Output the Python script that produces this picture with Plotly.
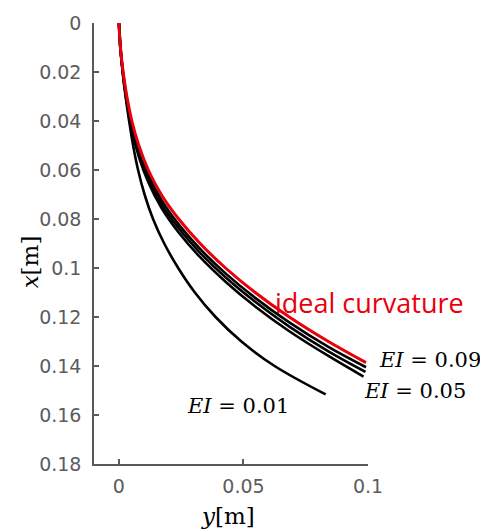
import plotly.graph_objects as go

# horizontal coordinate y[m] and vertical coordinate x[m]
ideal_y = [0, 0.0006, 0.0017, 0.0032, 0.0052, 0.0080, 0.0118, 0.0170, 0.0240, 0.0326, 0.0428, 0.0547, 0.0684, 0.0841, 0.0992]
ideal_x = [0, 0.010, 0.020, 0.030, 0.040, 0.050, 0.060, 0.070, 0.080, 0.090, 0.100, 0.110, 0.120, 0.130, 0.1386]

ei09_y = [0, 0.0006, 0.0017, 0.0032, 0.0052, 0.0080, 0.0118, 0.0170, 0.0240, 0.0326, 0.0428, 0.0547, 0.0684, 0.0841, 0.0992]
ei09_x = [0, 0.0102, 0.0205, 0.0310, 0.0415, 0.0518, 0.0620, 0.0721, 0.0822, 0.0922, 0.1022, 0.1122, 0.1222, 0.1322, 0.1405]

ei07_y = [0, 0.0006, 0.0017, 0.0032, 0.0052, 0.0080, 0.0118, 0.0170, 0.0240, 0.0326, 0.0428, 0.0547, 0.0684, 0.0841, 0.0990]
ei07_x = [0, 0.0104, 0.0210, 0.0320, 0.0428, 0.0532, 0.0635, 0.0737, 0.0838, 0.0938, 0.1038, 0.1138, 0.1239, 0.1340, 0.1424]

ei05_y = [0, 0.0006, 0.0017, 0.0032, 0.0052, 0.0080, 0.0118, 0.0170, 0.0240, 0.0326, 0.0428, 0.0547, 0.0684, 0.0841, 0.0982]
ei05_x = [0, 0.0106, 0.0215, 0.0328, 0.0440, 0.0546, 0.0650, 0.0753, 0.0855, 0.0956, 0.1056, 0.1157, 0.1258, 0.1359, 0.1443]

ei01_y = [0, 0.0015, 0.0027, 0.0041, 0.0057, 0.0077, 0.0103, 0.0137, 0.0182, 0.0238, 0.0305, 0.0388, 0.0492, 0.0625, 0.0830]
ei01_x = [0, 0.020, 0.030, 0.040, 0.050, 0.060, 0.070, 0.080, 0.090, 0.100, 0.110, 0.120, 0.130, 0.140, 0.1516]

xtick_vals = [0, 0.05, 0.1]
xtick_text = ["0", "0.05", "0.1"]
ytick_vals = [0, 0.02, 0.04, 0.06, 0.08, 0.1, 0.12, 0.14, 0.16, 0.18]
ytick_text = ["0", "0.02", "0.04", "0.06", "0.08", "0.1", "0.12", "0.14", "0.16", "0.18"]

fig = go.Figure()
for xs, ys in [(ei01_y, ei01_x), (ei05_y, ei05_x), (ei07_y, ei07_x), (ei09_y, ei09_x)]:
    fig.add_trace(go.Scatter(x=xs, y=ys, mode="lines", line=dict(color="black", width=2.6, shape="spline"),
                             cliponaxis=False, showlegend=False))
fig.add_trace(go.Scatter(x=ideal_y, y=ideal_x, mode="lines", line=dict(color="#e8000b", width=3, shape="spline"),
                         cliponaxis=False, showlegend=False))

axis_common = dict(showline=True, linecolor="#5a5a5a", linewidth=1.5, ticks="inside", ticklen=5,
                   tickcolor="#5a5a5a", tickwidth=1.5, showgrid=False, zeroline=False, mirror=False,
                   tickfont=dict(family="DejaVu Sans", size=19, color="#5c5c5c"))

fig.update_xaxes(range=[-0.01, 0.1], tickvals=xtick_vals, ticktext=xtick_text, ticklabelstandoff=4, **axis_common)
fig.update_yaxes(range=[0.18, 0], tickvals=ytick_vals, ticktext=ytick_text, ticklabelstandoff=7, **axis_common)

serif = "DejaVu Serif"


def px(xp):
    return (xp - 94) / 274


def py(yp):
    return (464 - yp) / 444


anns = [
    dict(x=px(273), y=py(301), text="ideal curvature", font=dict(family="Open Sans", size=27, color="#e8000b")),
    dict(x=px(377), y=py(359), text="<i>EI</i> = 0.09", font=dict(family=serif, size=21, color="black")),
    dict(x=px(362), y=py(390), text="<i>EI</i> = 0.05", font=dict(family=serif, size=21, color="black")),
    dict(x=px(185), y=py(406), text="<i>EI</i> = 0.01", font=dict(family=serif, size=21, color="black")),
]
for a in anns:
    fig.add_annotation(xref="paper", yref="paper", xanchor="left", yanchor="middle", showarrow=False, **a)

fig.add_annotation(xref="paper", yref="paper", x=px(228), y=py(516), xanchor="center",
                   yanchor="middle", showarrow=False, text="<i>y</i>[m]",
                   font=dict(family=serif, size=23, color="black"))
fig.add_annotation(xref="paper", yref="paper", x=px(30), y=py(261), xanchor="center",
                   yanchor="middle", showarrow=False, text="<i>x</i>[m]", textangle=-90,
                   font=dict(family=serif, size=23, color="black"))

fig.update_layout(width=480, height=530, margin=dict(l=94, r=112, t=20, b=66),
                  plot_bgcolor="white", paper_bgcolor="white")

fig.write_html("out.html")
